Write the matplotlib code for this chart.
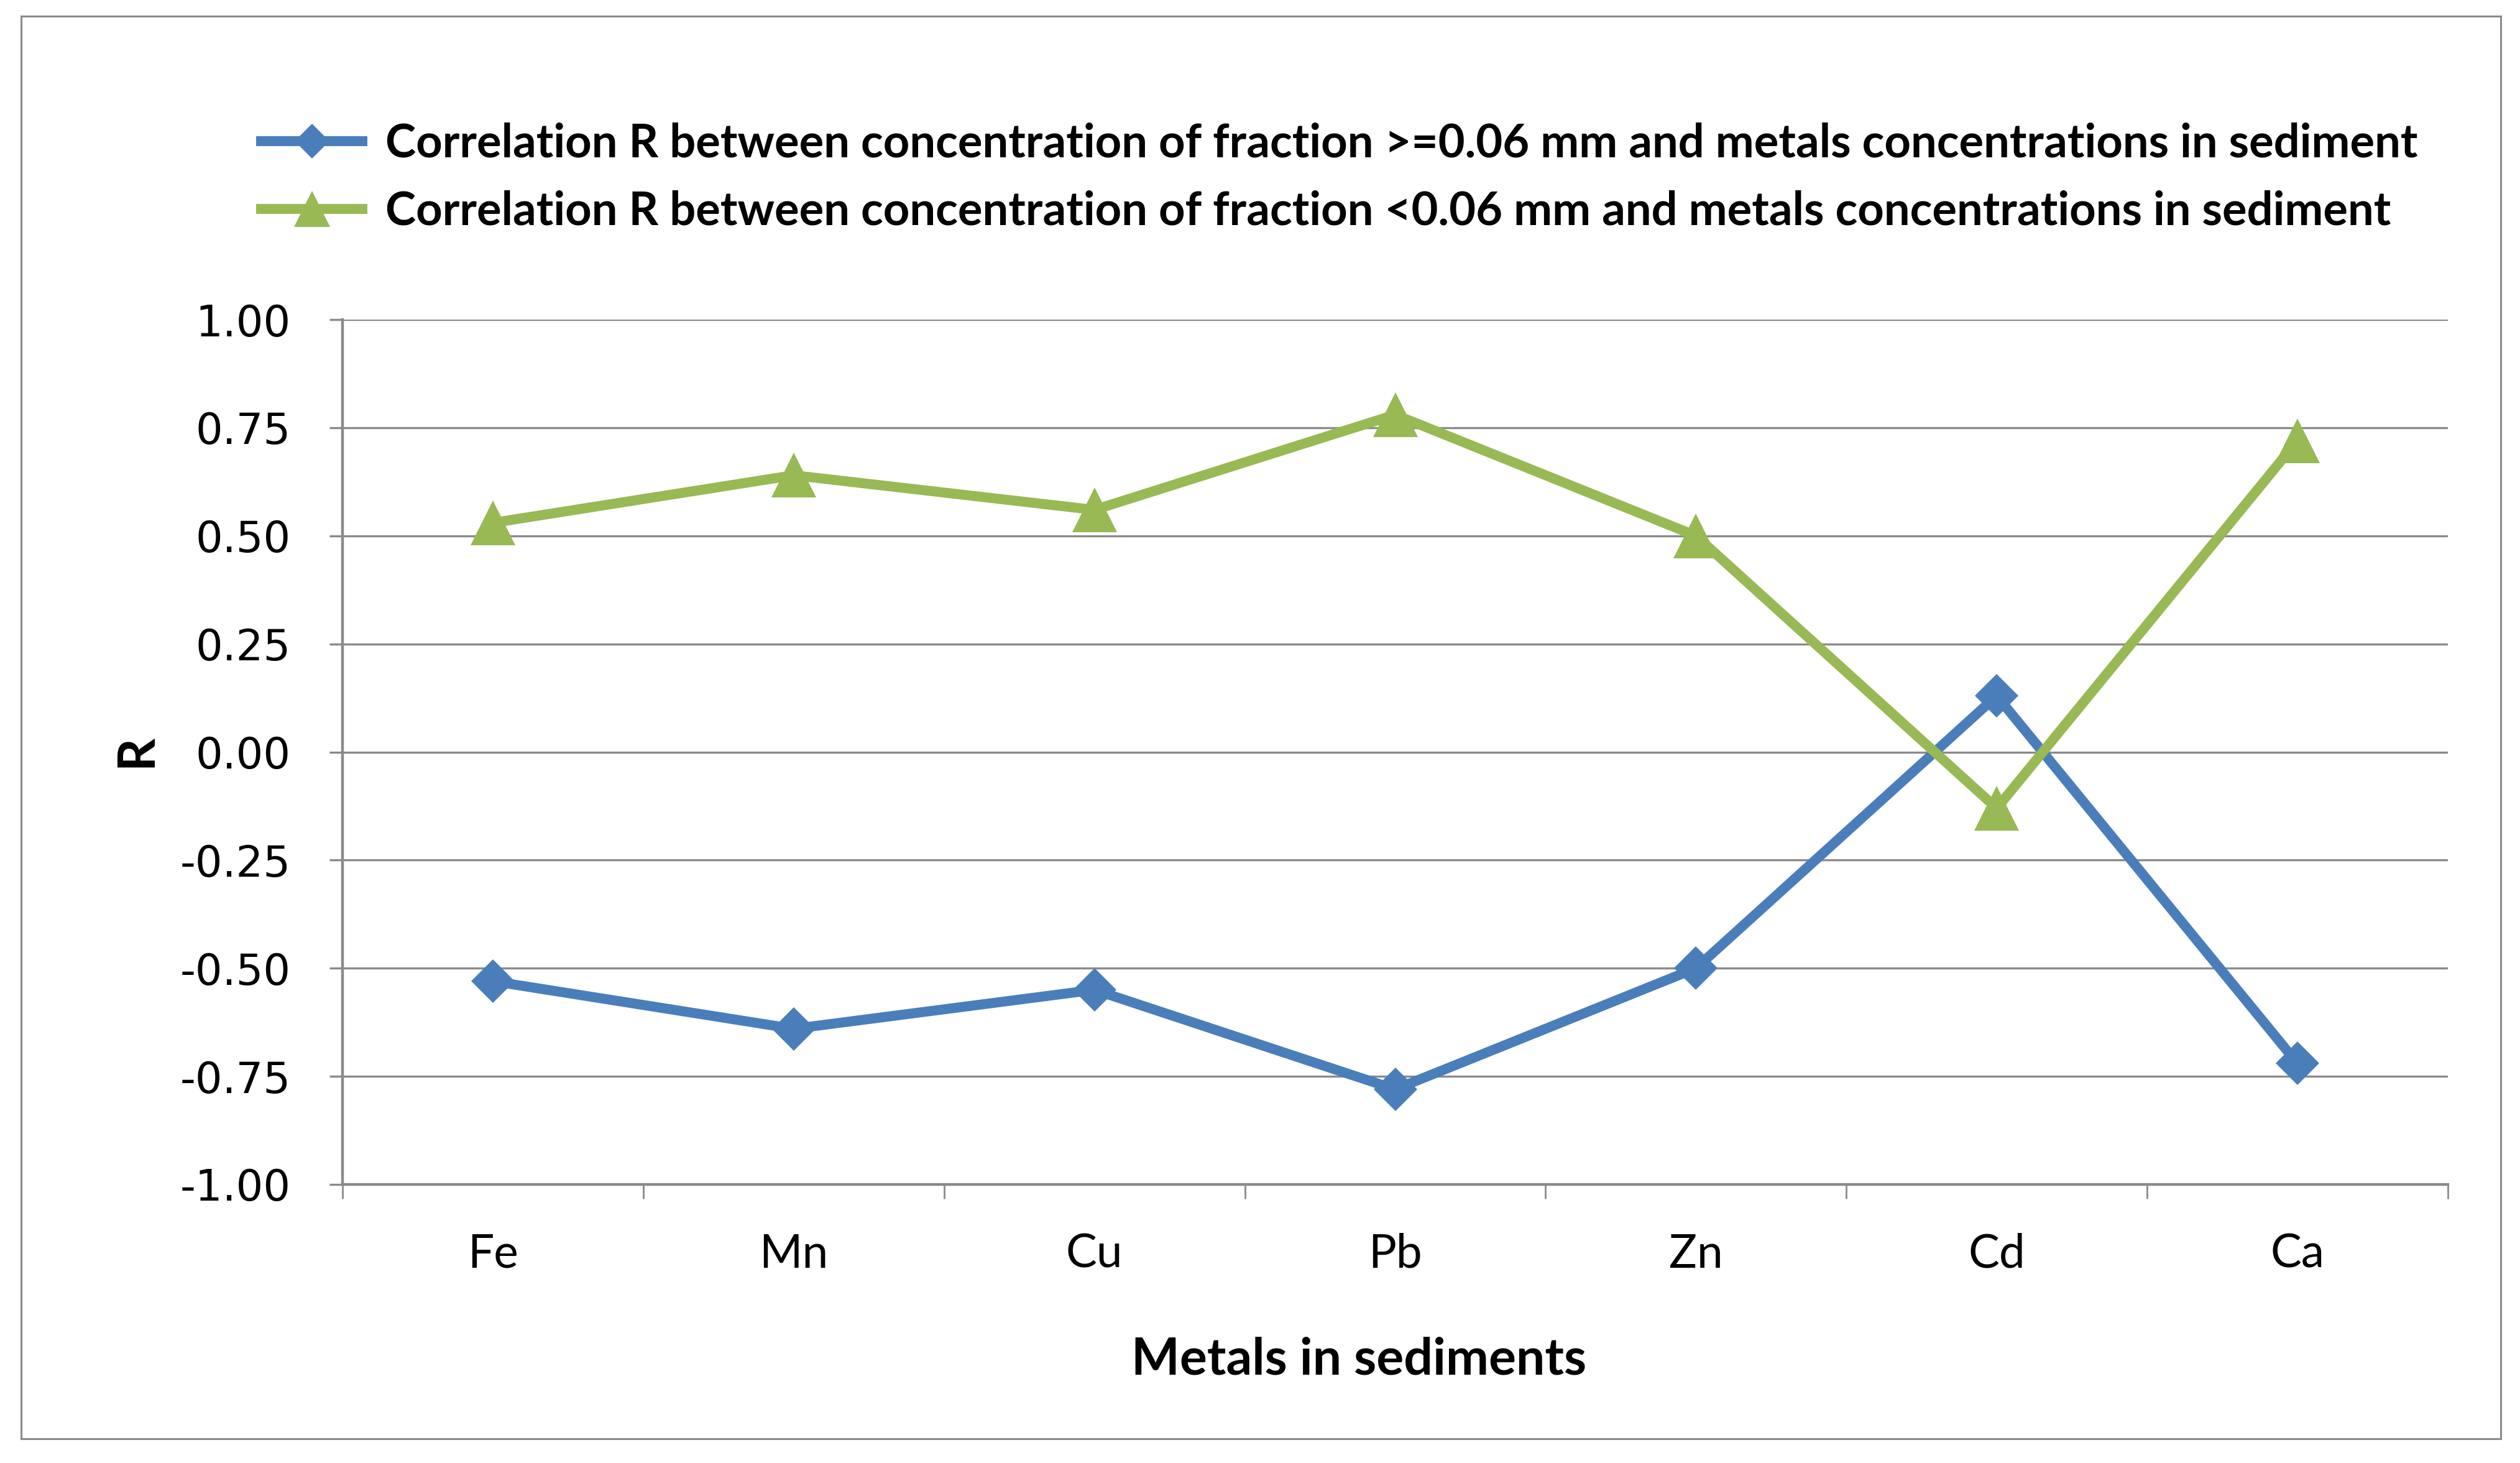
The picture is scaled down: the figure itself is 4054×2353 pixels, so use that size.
import numpy as np
import matplotlib
matplotlib.use('Agg')
import matplotlib.pyplot as plt
from matplotlib.patches import Rectangle

# ---------------- data ----------------
metals = ['Fe', 'Mn', 'Cu', 'Pb', 'Zn', 'Cd', 'Ca']
r_coarse = [-0.53, -0.64, -0.55, -0.78, -0.50, 0.13, -0.72]
r_fine = [0.53, 0.64, 0.56, 0.78, 0.50, -0.13, 0.72]
ytick_vals = [-1.00, -0.75, -0.50, -0.25, 0.00, 0.25, 0.50, 0.75, 1.00]
ytick_labels = ['-1.00', '-0.75', '-0.50', '-0.25', '0.00', '0.25', '0.50', '0.75', '1.00']
label_coarse = 'Correlation R between concentration of fraction >=0.06 mm and metals concentrations in sediment'
label_fine = 'Correlation R between concentration of fraction <0.06 mm and metals concentrations in sediment'
xlabel_text = 'Metals in sediments'
ylabel_text = 'R'

# ---------------- style ----------------
W, H, DPI = 4054, 2353, 100
BLUE = '#4A7EBB'
GREEN = '#98B954'
GRAY = '#8A8A8A'

fig = plt.figure(figsize=(W / DPI, H / DPI), dpi=DPI)
fig.patch.set_facecolor('white')
renderer = fig.canvas.get_renderer()


def fit_size(s, target_px, family, weight='normal', start=40.0):
    t = fig.text(0, 0, s, family=family, weight=weight, fontsize=start)
    w = t.get_window_extent(renderer).width
    t.remove()
    return start * target_px / w


# outer chart border
fig.add_artist(Rectangle((34 / W, 1 - 2314 / H), (4023 - 34) / W, (2314 - 26) / H,
                         transform=fig.transFigure, fill=False,
                         edgecolor=GRAY, linewidth=2.2))

ax = fig.add_axes([551 / W, 1 - 1905 / H, (3938 - 551) / W, (1905 - 514) / H])
x = np.arange(len(metals))

l1, = ax.plot(x, r_coarse, color=BLUE, lw=11.5, marker='D', ms=36,
              markeredgewidth=0, solid_joinstyle='miter', zorder=3, clip_on=False)
l2, = ax.plot(x, r_fine, color=GREEN, lw=11.5, marker='^', ms=52,
              markeredgewidth=0, solid_joinstyle='miter', zorder=4, clip_on=False)

ax.set_xlim(-0.5, len(metals) - 0.5)
ax.set_ylim(-1, 1)

ax.set_yticks(ytick_vals)
fs_y = fit_size('1.00', 153, 'DejaVu Sans')
ax.set_yticklabels(ytick_labels, fontsize=fs_y, family='DejaVu Sans')
ax.yaxis.grid(True, color=GRAY, lw=2.4)
ax.set_axisbelow(True)

ax.set_xticks(x)
fs_x = fit_size('Mn', 111, 'Lato')
ax.set_xticklabels(metals, fontsize=fs_x, family='Lato')
ax.set_xticks(np.arange(-0.5, len(metals), 1), minor=True)

ax.tick_params(axis='x', which='major', length=0, pad=56)
ax.tick_params(axis='x', which='minor', length=16.5, width=2.0, color=GRAY, direction='out')
ax.tick_params(axis='y', which='major', length=15, width=2.4, color=GRAY, direction='out', pad=45)

for side in ['top', 'right']:
    ax.spines[side].set_visible(False)
for side in ['left', 'bottom']:
    ax.spines[side].set_color(GRAY)
    ax.spines[side].set_linewidth(3.2)

# axis titles
fs_xl = fit_size(xlabel_text, 732, 'Lato', 'bold')
fig.text(2186 / W, 1 - 2187 / H, xlabel_text, ha='center', va='center',
         fontsize=fs_xl, family='Lato', weight='bold')
fig.text(220 / W, 1 - 1207 / H, ylabel_text, ha='center', va='center', rotation=90,
         fontsize=fs_xl, family='Lato', weight='bold')

# legend (two rows, each placed)
fs_leg = fit_size(label_coarse, 3271, 'Lato', 'bold')
px_per_em = fs_leg * DPI / 72
common = dict(frameon=False, borderpad=0, borderaxespad=0, loc='center left',
              handlelength=163 / px_per_em, handletextpad=37 / px_per_em,
              prop={'family': 'Lato', 'weight': 'bold', 'size': fs_leg},
              markerscale=0.8)
fig.legend(handles=[l1], labels=[label_coarse], bbox_to_anchor=(420 / W, 1 - 231 / H), **common)
fig.legend(handles=[l2], labels=[label_fine], bbox_to_anchor=(420 / W, 1 - 340 / H), **common)

fig.savefig('out.png', dpi=DPI, facecolor='white')
